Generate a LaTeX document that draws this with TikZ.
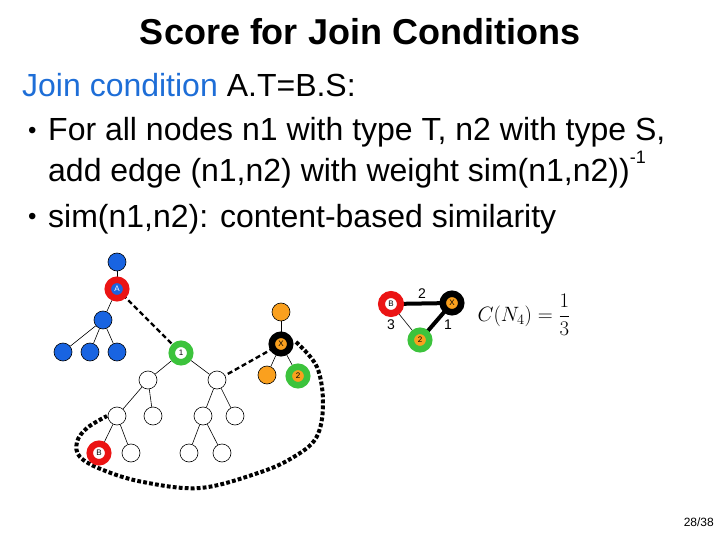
\documentclass[tikz,border=0pt]{standalone}
\usepackage{fontspec}
\setmainfont{Liberation Sans}
\usetikzlibrary{backgrounds}
\definecolor{nblue}{RGB}{25,100,225}
\definecolor{norange}{RGB}{250,160,30}
\definecolor{ngreen}{RGB}{60,195,60}
\definecolor{nred}{RGB}{235,20,20}
\definecolor{textblue}{RGB}{30,110,215}
\tikzset{
  pn/.style={circle, draw=black, line width=0.6pt, minimum size=18pt, inner sep=0pt},
  bnode/.style={pn, fill=nblue},
  onode/.style={pn, fill=norange},
  wnode/.style={pn, fill=white},
  ring/.style={circle, line width=6.5pt, minimum size=18.5pt, inner sep=0pt, font=\fontsize{8}{8}\selectfont},
  bigring/.style={ring, line width=7pt, minimum size=19pt},
  txt/.style={anchor=base west, inner sep=0pt, font=\fontsize{32}{36}\selectfont},
  bul/.style={anchor=base west, inner sep=0pt, font=\fontsize{24}{24}\selectfont},
  edge/.style={line width=0.6pt, black},
  dashconn/.style={line width=2.4pt, black, dash pattern=on 5pt off 3pt},
  dotconn/.style={line width=4pt, black, dash pattern=on 3.8pt off 2.2pt},
  wlabel/.style={inner sep=0pt, font=\fontsize{14}{14}\selectfont},
}
\begin{document}
\begin{tikzpicture}[x=1pt,y=-1pt]
\useasboundingbox (0,0) rectangle (720,540);
% texts
\node[anchor=base, inner sep=0pt, font=\fontsize{36}{40}\selectfont\bfseries] (title) at (360,45) {Score for Join Conditions};
\node[txt] (jc) at (22,97) {\textcolor{textblue}{Join condition} A.T=B.S:};
\node[bul] (b1) at (28,139) {•};
\node[txt] (l1) at (48,141) {For all nodes n1 with type T, n2 with type S,};
\node[txt] (l2) at (48,182) {add edge (n1,n2) with weight sim(n1,n2))\raisebox{18pt}{\fontsize{18}{18}\selectfont -1}};
\node[bul] (b2) at (28,225) {•};
\node[txt] (l3) at (48,227) {sim(n1,n2): content-based similarity};
\node[anchor=base east, inner sep=0pt, font=\fontsize{12}{12}\selectfont] (pg) at (714,526) {28/38};

% left tree
\node[bnode] (btop) at (117,262) {};
\node[ring, draw=nred, fill=nblue, text=white] (A) at (117,289) {A};
\node[bnode] (bc) at (103,320) {};
\node[bnode] (bl1) at (63,352) {};
\node[bnode] (bl2) at (90,352) {};
\node[bnode] (bl3) at (117,352) {};
\node[ring, draw=ngreen, fill=white] (n1) at (181,353) {1};
\node[wnode] (wL) at (148,380) {};
\node[wnode] (wR) at (217,380) {};
\node[wnode] (wLL) at (117,416) {};
\node[wnode] (wLR) at (153,416) {};
\node[wnode] (wRL) at (203,416) {};
\node[wnode] (wRR) at (235,416) {};
\node[ring, draw=nred, fill=white] (B) at (99,453) {B};
\node[wnode] (wLLR) at (131,453) {};
\node[wnode] (wRLL) at (189,453) {};
\node[wnode] (wRLR) at (222,453) {};
\node[onode] (otop) at (281,312) {};
\node[ring, draw=black, fill=norange] (X) at (281,344) {X};
\node[onode] (oleaf) at (267,375) {};
\node[ring, draw=ngreen, fill=norange] (n2) at (298,376) {2};

% right graph
\node[bigring, draw=nred, fill=white] (B2) at (391,304) {B};
\node[ring, draw=black, fill=norange] (X2) at (452,303) {X};
\node[ring, draw=ngreen, fill=norange] (G2) at (420,340) {2};
\node[wlabel] (lab2) at (422,294) {2};
\node[wlabel] (lab3) at (391,325) {3};
\node[wlabel] (lab1) at (448,325) {1};
\node[inner sep=0pt, font=\fontsize{22}{26}\selectfont] (formula) at (524,315) {$C(N_4)=\displaystyle\frac{1}{3}$};

\coordinate (c1) at (317,367);
\coordinate (c2) at (323,405);
\coordinate (c3) at (316,438);
\coordinate (c4) at (292,458);
\coordinate (c5) at (258,473);
\coordinate (c6) at (200,488);
\coordinate (c7) at (143,482);
\coordinate (c8) at (103,470);
\coordinate (c9) at (80,457);
\coordinate (c10) at (77,442);
\coordinate (c11) at (87,428);
\coordinate (xs) at (296,342);
\coordinate (we) at (107,416);

\begin{scope}[on background layer]
  \draw[edge] (btop) -- (A);
  \draw[edge] (A) -- (bc);
  \draw[edge] (bc) -- (bl1);
  \draw[edge] (bc) -- (bl2);
  \draw[edge] (bc) -- (bl3);
  \draw[edge] (n1) -- (wL);
  \draw[edge] (n1) -- (wR);
  \draw[edge] (wL) -- (wLL);
  \draw[edge] (wL) -- (wLR);
  \draw[edge] (wR) -- (wRL);
  \draw[edge] (wR) -- (wRR);
  \draw[edge] (wLL) -- (B);
  \draw[edge] (wLL) -- (wLLR);
  \draw[edge] (wRL) -- (wRLL);
  \draw[edge] (wRL) -- (wRLR);
  \draw[edge] (otop) -- (X);
  \draw[edge] (X) -- (oleaf);
  \draw[edge] (X) -- (n2);
  \draw[dashconn] (A.center) -- (n1.center);
  \draw[dashconn] (X.center) -- (wR);
  \draw[dotconn] plot[smooth, tension=0.6] coordinates {(xs) (c1) (c2) (c3) (c4) (c5) (c6) (c7) (c8) (c9) (c10) (c11) (we)};
  \draw[line width=4pt, black] (B2.center) -- (X2.center);
  \draw[line width=4pt, black] (X2.center) -- (G2.center);
  \draw[edge] (B2.center) -- (G2.center);
\end{scope}
\end{tikzpicture}
\end{document}
